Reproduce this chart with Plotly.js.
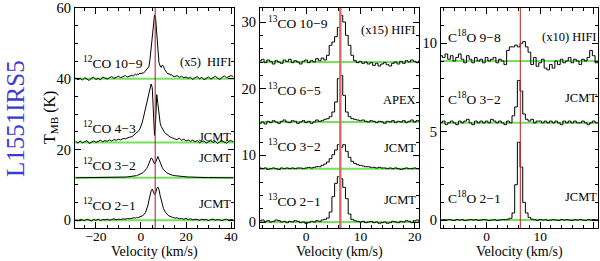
<!DOCTYPE html>
<html><head><meta charset="utf-8">
<script src="https://cdn.plot.ly/plotly-3.0.1.min.js"></script>
<style>html,body{margin:0;padding:0;background:#fff}#chart{width:600px;height:261px}</style>
</head><body><div id="chart"></div>
<script>
// ---------- DATA ----------
const vel12 = [-29,-28,-27,-26,-25,-24,-23,-22,-21,-20,-19,-18,-17,-16,-15,-14,-13,-12,-11,-10,-9,-8,-7,-6,-5,
  -4,-3.5,-3,-2.5,-2,-1.5,-1,-0.5,0,0.5,1,1.5,2,2.5,3,3.5,4,4.5,5,5.5,6,6.5,7,7.5,8,8.5,9,9.5,10,10.5,11,11.5,12,12.5,13,13.5,14,
  15,16,17,18,19,20,21,22,23,24,25,26,27,28,29,30,31,32,33,34,35,36,37,38,39,40,41];
const co12_10_9 = [0.2,-0.3,0.1,-0.4,0.3,0.0,-0.5,0.2,0.4,-0.2,0.1,-0.3,0.5,0.2,-0.1,0.3,0.6,0.1,0.4,0.7,0.3,0.6,0.9,0.5,0.8,
  1.0,0.7,1.1,1.3,1.0,1.4,1.2,1.6,1.4,1.7,1.5,1.9,2.1,2.4,2.8,3.4,5.5,8.5,12.0,15.5,18.0,17.0,12.5,7.0,4.5,3.6,3.2,3.9,3.5,2.6,2.0,1.7,1.3,1.5,1.0,1.2,0.8,
  0.6,0.9,0.4,0.7,0.3,0.5,0.1,0.4,-0.2,0.3,0.6,0.0,0.4,-0.3,0.2,0.5,-0.1,0.3,0.7,0.2,-0.2,0.4,0.8,0.3,0.5,0.9,0.6];
const co12_4_3 = [0.3,-0.2,0.4,-0.1,0.2,0.5,-0.3,0.1,0.4,0.0,0.3,0.6,0.2,0.5,0.3,0.7,0.4,0.8,0.6,0.9,0.7,1.1,1.0,1.3,1.5,
  1.6,1.9,2.1,2.3,2.6,2.9,3.3,3.8,4.5,5.5,6.8,8.2,9.6,11.0,12.5,14.0,15.5,16.5,15.5,10.0,2.0,6.0,13.5,11.0,7.5,5.5,4.5,3.8,3.3,2.8,2.5,2.2,2.0,1.8,1.5,1.4,1.2,
  1.0,0.8,1.2,0.6,0.9,0.4,0.7,0.3,0.6,0.2,0.5,-0.1,0.3,0.4,-0.2,0.2,0.5,0.0,0.3,-0.3,0.2,0.4,0.1,-0.2,0.3,0.5,0.2];
const co12_3_2 = [0,0,0,0,0,0,0,0,0,0,0,0.05,0.05,0.05,0.05,0.1,0.1,0.1,0.1,0.15,0.15,0.2,0.2,0.25,0.3,
  0.35,0.4,0.45,0.5,0.6,0.7,0.8,0.95,1.1,1.3,1.5,1.8,2.1,2.6,3.2,4.0,5.0,5.6,5.4,4.6,3.9,4.4,5.6,6.0,5.2,4.2,3.4,2.8,2.3,1.9,1.6,1.4,1.2,1.05,0.9,0.8,0.7,
  0.6,0.5,0.4,0.35,0.3,0.25,0.2,0.2,0.15,0.15,0.1,0.1,0.1,0.05,0.05,0.05,0.05,0,0,0,0,0,0,0,0,0,0];
const co12_2_1 = [0.1,-0.2,0.2,0.0,-0.1,0.3,0.1,-0.2,0.2,0.0,0.3,-0.1,0.2,0.1,0.3,0.0,0.2,0.4,0.1,0.3,0.2,0.4,0.3,0.5,0.4,
  0.6,0.5,0.7,0.6,0.8,0.7,0.9,1.0,1.1,1.2,1.4,1.7,2.2,3.0,4.0,5.5,7.0,8.3,8.8,8.2,7.3,7.6,9.0,9.4,8.6,7.0,5.5,4.2,3.3,2.6,2.1,1.7,1.4,1.2,1.0,0.9,0.8,
  0.6,0.7,0.4,0.5,0.3,0.5,0.2,0.4,0.1,0.3,0.2,0.0,0.3,0.1,0.2,-0.1,0.2,0.3,0.0,0.2,0.1,-0.1,0.2,0.3,0.0,0.2,0.1];
const offsets12 = [40, 22, 12, 0];
const names12 = ['<sup>12</sup>CO 10\u22129', '<sup>12</sup>CO 4\u22123', '<sup>12</sup>CO 3\u22122', '<sup>12</sup>CO 2\u22121'];
const tele12 = ['(x5)\u00a0\u00a0HIFI', 'JCMT', 'JCMT', 'JCMT'];

const vel13 = [-8.5,-8,-7.5,-7,-6.5,-6,-5.5,-5,-4.5,-4,-3.5,-3,-2.5,-2,-1.5,-1,-0.5,0,0.5,1,1.5,2,2.5,3,3.5,4,4.5,5,5.5,6,
  6.5,7,7.5,8,8.5,9,9.5,10,10.5,11,11.5,12,12.5,13,13.5,14,14.5,15,15.5,16,16.5,17,17.5,18,18.5,19,19.5,20,20.5,21];
const co13_10_9 = [0.2,0.4,-0.1,0.3,0.1,-0.3,0.2,0.0,-0.2,0.3,0.1,0.4,-0.1,0.2,0.0,-0.3,0.1,0.3,-0.1,0.2,0.0,0.5,0.2,0.6,0.3,1.0,2.5,3.0,3.8,5.2,
  7.0,6.0,4.0,2.5,1.0,0.2,-0.1,0.1,-0.2,0.0,-0.3,-0.1,-0.5,-0.2,-0.6,-0.3,-0.1,-0.4,-0.6,-0.2,0.0,-0.3,0.1,-0.2,0.2,0.0,0.3,0.1,-0.1,0.2];
const co13_6_5 = [-0.2,0.0,-0.3,0.1,-0.1,0.2,0.0,-0.2,0.1,0.3,0.0,-0.1,0.2,0.1,-0.2,0.0,0.2,-0.1,0.1,-0.2,0.0,0.3,0.1,0.2,0.4,0.5,0.8,1.5,3.0,6.5,
  7.0,4.0,1.5,0.8,0.5,0.4,0.3,0.2,0.3,0.1,0.0,0.2,0.1,-0.1,0.1,0.0,-0.2,0.1,0.0,0.2,-0.1,0.1,0.0,0.2,-0.1,0.1,0.3,0.0,0.2,0.1];
const co13_3_2 = [0.1,0.0,0.1,-0.1,0.0,0.1,0.0,-0.1,0.1,0.0,0.1,0.0,0.1,0.0,0.1,0.1,0.0,0.1,0.2,0.1,0.2,0.3,0.3,0.5,0.7,1.0,1.5,2.1,2.8,3.6,
  3.2,3.6,2.6,1.7,1.1,0.8,0.6,0.5,0.4,0.3,0.3,0.2,0.2,0.1,0.2,0.1,0.1,0.0,0.1,0.0,0.1,0.0,-0.1,0.0,0.1,0.0,0.0,0.1,0.0,0.0];
const co13_2_1 = [0.2,0.3,0.1,0.2,0.0,0.1,0.3,0.2,0.0,0.1,-0.1,0.1,0.0,0.2,0.1,-0.1,0.0,-0.2,-0.1,0.1,0.0,0.2,0.1,0.3,0.4,0.6,1.5,3.8,5.8,6.8,
  6.5,5.2,3.5,1.2,0.4,0.2,0.1,0.0,0.1,-0.1,0.0,0.1,-0.1,0.0,-0.2,-0.1,0.0,-0.2,-0.1,0.1,0.0,-0.1,0.1,0.0,0.2,0.1,-0.1,0.2,0.3,0.1];
const offsets13 = [24, 15, 8, 0];
const names13 = ['<sup>13</sup>CO 10\u22129', '<sup>13</sup>CO 6\u22125', '<sup>13</sup>CO 3\u22122', '<sup>13</sup>CO 2\u22121'];
const tele13 = ['(x15) HIFI', 'APEX', 'JCMT', 'JCMT'];

const velC18 = vel13;
const c18o_9_8 = [0.3,0.2,0.4,0.1,0.3,0.0,0.2,0.4,0.1,-0.1,0.3,0.1,-0.1,0.2,0.0,0.1,-0.1,0.2,0.0,0.1,0.2,-0.1,0.1,0.0,-0.2,0.6,0.8,0.8,0.9,0.8,
  1.0,1.1,0.8,0.5,-0.2,0.2,-0.3,-0.1,0.1,-0.4,-0.5,-0.2,-0.4,0.0,-0.2,0.1,-0.1,0.0,0.2,-0.1,0.1,0.0,-0.2,0.1,0.0,0.2,0.6,0.3,-0.1,0.0];
const c18o_3_2 = [0.0,0.1,-0.1,0.0,0.1,0.0,-0.1,0.1,0.0,0.1,0.2,0.0,-0.1,0.1,0.0,0.1,0.0,0.1,0.0,0.2,0.1,0.0,0.1,0.0,-0.1,0.1,0.0,0.4,0.9,2.4,
  1.8,0.5,0.2,0.1,0.2,0.0,0.1,0.1,0.0,0.1,0.0,0.1,0.0,0.1,0.0,-0.1,0.1,0.0,0.1,0.0,0.1,0.0,0.0,0.1,0.0,-0.1,0.0,0.1,0.0,0.0];
const c18o_2_1 = [0.0,0.02,0.0,0.03,0.0,-0.02,0.03,0.0,0.02,-0.03,0.0,0.03,0.0,0.02,-0.02,0.0,0.03,0.0,-0.03,0.0,0.02,-0.02,0.0,0.03,0.02,0.05,0.1,0.4,2.0,4.4,
  3.0,1.0,0.4,0.15,0.05,0.02,-0.02,0.03,0.0,0.02,-0.03,0.0,0.02,0.0,-0.02,0.03,0.0,0.02,0.0,-0.02,0.02,0.0,0.03,0.0,-0.02,0.02,0.0,0.03,0.0,0.02];
const offsetsC18 = [9, 5.5, 0];
const namesC18 = ['C<sup>18</sup>O 9\u22128', 'C<sup>18</sup>O 3\u22122', 'C<sup>18</sup>O 2\u22121'];
const teleC18 = ['(x10) HIFI', 'JCMT', 'JCMT'];

const vlsr = 6.3;
const sourceName = 'L1551IRS5';
const xTitle = 'Velocity (km/s)';
const yTitle = 'T<sub>MB</sub> (K)';

// ---------- STYLE / LAYOUT ----------
const FONT = 'Liberation Serif, Times New Roman, serif';
const W = 600, H = 261;
const px = x => x / W, py = y => 1 - y / H;
const GREEN = '#74e35c';

const panels = [
  {ax: '', vel: vel12, spec: [co12_10_9, co12_4_3, co12_3_2, co12_2_1], off: offsets12, shape: 'linear',
   names: names12, tele: tele12, nameY: [62, 128, 164, 204], teleY: [62, 137, 158, 204], nameX: 81, teleX: 233,
   red: '#b01818', redW: 1, x0: 75, x1: 234},
  {ax: '2', vel: vel13, spec: [co13_10_9, co13_6_5, co13_3_2, co13_2_1], off: offsets13, shape: 'hvh',
   names: names13, tele: tele13, nameY: [22, 89, 145, 200], teleY: [30, 100, 148, 200], nameX: 266, teleX: 418,
   red: '#e06a6a', redW: 2.5, x0: 260, x1: 419},
  {ax: '3', vel: velC18, spec: [c18o_9_8, c18o_3_2, c18o_2_1], off: offsetsC18, shape: 'hvh',
   names: namesC18, tele: teleC18, nameY: [37, 98, 197], teleY: [37, 98, 197], nameX: 446, teleX: 599,
   red: '#c02020', redW: 1, x0: 441, x1: 598}
];

const traces = [], shapes = [], annotations = [];
panels.forEach(p => {
  p.spec.forEach((s, i) => {
    traces.push({
      x: p.vel, y: s.map(v => v + p.off[i]), type: 'scatter', mode: 'lines',
      line: {color: '#000', width: 1, shape: p.shape},
      xaxis: 'x' + p.ax, yaxis: 'y' + p.ax, hoverinfo: 'skip', showlegend: false
    });
    shapes.push({type: 'line', layer: 'below', xref: 'x' + p.ax + ' domain', x0: 0, x1: 1,
      yref: 'y' + p.ax, y0: p.off[i], y1: p.off[i], line: {color: GREEN, width: 2}});
    annotations.push({text: p.names[i], xref: 'paper', yref: 'paper', x: px(p.nameX), y: py(p.nameY[i]),
      xanchor: 'left', yanchor: 'middle', showarrow: false, font: {family: FONT, size: 13.5, color: '#000'}});
    annotations.push({text: p.tele[i], xref: 'paper', yref: 'paper', x: px(p.teleX), y: py(p.teleY[i]),
      xanchor: 'right', yanchor: 'middle', showarrow: false, font: {family: FONT, size: 12.5, color: '#000'}});
  });
  shapes.push({type: 'line', layer: 'above', xref: 'x' + p.ax, x0: vlsr, x1: vlsr,
    yref: 'y' + p.ax + ' domain', y0: 0, y1: 1, line: {color: p.red, width: p.redW}});
  // x-axis title, centred under the panel
  annotations.push({text: xTitle, xref: 'paper', yref: 'paper', x: px((p.x0 + p.x1) / 2), y: 0,
    xanchor: 'center', yanchor: 'bottom', yshift: -1, showarrow: false,
    font: {family: FONT, size: 14, color: '#000'}});
});

annotations.push({text: yTitle, xref: 'paper', yref: 'paper', x: px(50), y: py(118),
  textangle: -90, showarrow: false, xanchor: 'center', yanchor: 'middle', font: {family: FONT, size: 16, color: '#000'}});
annotations.push({text: sourceName, xref: 'paper', yref: 'paper', x: px(15), y: py(119),
  textangle: -90, showarrow: false, xanchor: 'center', yanchor: 'middle', font: {family: FONT, size: 25, color: '#3b3bd0'}});

const yDom = [py(228), py(8)];
const TF = {family: FONT, size: 13.5, color: '#000'};
function xAx(dom, range, dtick, minor, anchor) {
  return {domain: dom, range: range, dtick: dtick, tick0: 0, ticks: 'inside', ticklen: 6, tickwidth: 1,
    tickcolor: '#000', mirror: 'allticks', showline: true, linecolor: '#000', linewidth: 1,
    showgrid: false, zeroline: false, fixedrange: true, anchor: anchor,
    minor: {dtick: minor, tick0: 0, ticks: 'inside', ticklen: 3, tickcolor: '#000', showgrid: false},
    tickfont: TF, ticklabelstandoff: -4};
}
function yAx(dom, range, dtick, minor, anchor) {
  return {domain: dom, range: range, dtick: dtick, tick0: 0, ticks: 'inside', ticklen: 6, tickwidth: 1,
    tickcolor: '#000', mirror: 'allticks', showline: true, linecolor: '#000', linewidth: 1,
    showgrid: false, zeroline: false, fixedrange: true, anchor: anchor,
    minor: {dtick: minor, tick0: 0, ticks: 'inside', ticklen: 3, tickcolor: '#000', showgrid: false},
    tickfont: {family: FONT, size: 14.5, color: '#000'}};
}

const layout = {
  width: W, height: H, margin: {l: 0, r: 0, t: 0, b: 0}, paper_bgcolor: '#fff', plot_bgcolor: '#fff',
  showlegend: false,
  xaxis: xAx([px(75), px(234)], [-29.3, 41.3], 20, 5, 'y'),
  yaxis: yAx(yDom, [-2.2, 60], 20, 5, 'x'),
  xaxis2: xAx([px(260), px(419)], [-8.5, 20.8], 10, 2, 'y2'),
  yaxis2: yAx(yDom, [-0.9, 32.1], 10, 2, 'x2'),
  xaxis3: xAx([px(441), px(598)], [-8.5, 20.8], 10, 2, 'y3'),
  yaxis3: yAx(yDom, [-0.45, 12], 5, 1, 'x3'),
  shapes: shapes, annotations: annotations
};

Plotly.newPlot('chart', traces, layout, {staticPlot: true, displayModeBar: false});
</script>
</body></html>
